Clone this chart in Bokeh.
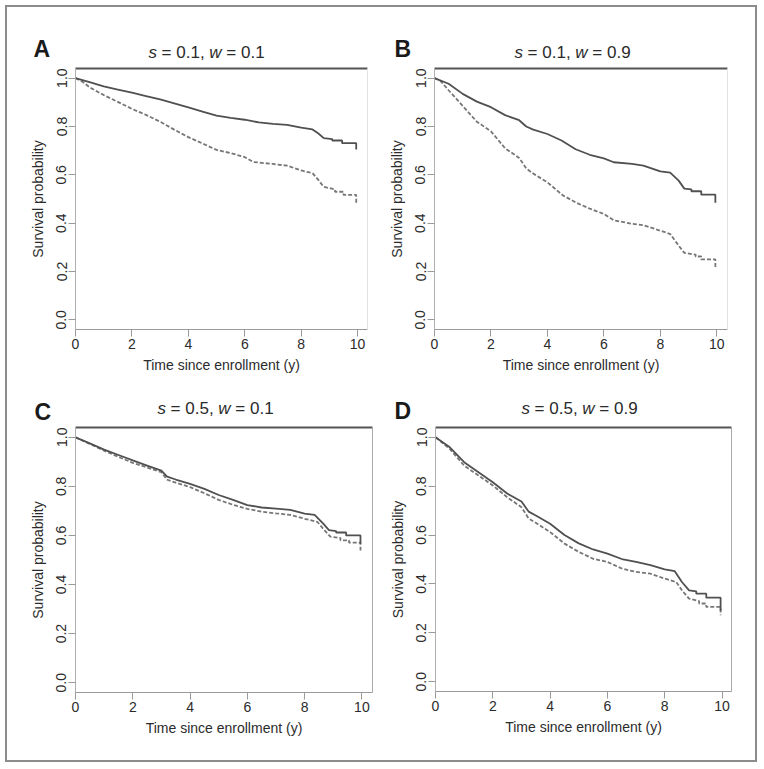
from bokeh.plotting import figure
from bokeh.layouts import column, row
from bokeh.models import Range1d, FixedTicker, PrintfTickFormatter, LinearAxis, Label, Spacer
from bokeh.embed import file_html
from bokeh.resources import INLINE

# ---------------- data ----------------
x_ticks = [0, 2, 4, 6, 8, 10]
y_ticks = [0.0, 0.2, 0.4, 0.6, 0.8, 1.0]
x_label = "Time since enrollment (y)"
y_label = "Survival probability"
panel_letters = ["A", "B", "C", "D"]
s_values = ["0.1", "0.1", "0.5", "0.5"]
w_values = ["0.1", "0.9", "0.1", "0.9"]

tA_s = [0, 0.5, 1.0, 1.5, 2.0, 2.5, 3.0, 3.5, 4.0, 4.5, 5.0, 5.5, 6.0, 6.5, 7.0, 7.5, 8.0, 8.4, 8.6, 8.8, 9.1, 9.1, 9.45, 9.45, 9.95, 9.95]
yA_s = [1.0, 0.984, 0.966, 0.953, 0.940, 0.926, 0.912, 0.896, 0.879, 0.862, 0.845, 0.836, 0.828, 0.817, 0.811, 0.807, 0.795, 0.788, 0.772, 0.752, 0.748, 0.742, 0.742, 0.731, 0.731, 0.705]
tA_d = [0, 0.25, 0.5, 1.0, 1.5, 2.0, 2.5, 3.0, 3.5, 4.0, 4.5, 5.0, 5.5, 6.0, 6.3, 7.0, 7.5, 8.0, 8.4, 8.6, 8.8, 9.2, 9.2, 9.5, 9.5, 9.95, 9.95]
yA_d = [1.0, 0.985, 0.962, 0.93, 0.902, 0.873, 0.848, 0.82, 0.787, 0.756, 0.73, 0.703, 0.69, 0.673, 0.653, 0.645, 0.638, 0.618, 0.607, 0.58, 0.55, 0.54, 0.53, 0.53, 0.517, 0.517, 0.483]

tB_s = [0, 0.5, 1.0, 1.5, 2.0, 2.5, 3.0, 3.25, 3.5, 4.0, 4.5, 5.0, 5.5, 6.0, 6.35, 7.0, 7.4, 8.0, 8.35, 8.65, 8.85, 9.1, 9.1, 9.45, 9.45, 9.95, 9.95]
yB_s = [1.0, 0.977, 0.935, 0.903, 0.88, 0.847, 0.826, 0.80, 0.787, 0.769, 0.742, 0.706, 0.683, 0.668, 0.652, 0.645, 0.638, 0.614, 0.609, 0.576, 0.543, 0.54, 0.532, 0.532, 0.518, 0.518, 0.485]
tB_d = [0, 0.2, 0.5, 1.0, 1.5, 2.0, 2.5, 3.0, 3.25, 3.5, 4.0, 4.55, 5.0, 5.5, 6.0, 6.35, 7.0, 7.4, 8.0, 8.35, 8.65, 8.85, 9.25, 9.25, 9.45, 9.45, 9.95, 9.95]
yB_d = [1.0, 0.99, 0.95, 0.885, 0.82, 0.78, 0.71, 0.67, 0.626, 0.605, 0.569, 0.515, 0.486, 0.46, 0.438, 0.412, 0.397, 0.392, 0.369, 0.355, 0.307, 0.277, 0.27, 0.262, 0.262, 0.25, 0.25, 0.217]

tC_s = [0, 0.5, 1.0, 1.5, 2.0, 2.5, 3.0, 3.2, 3.5, 4.0, 4.5, 5.0, 5.5, 6.0, 6.5, 7.0, 7.5, 8.0, 8.35, 8.65, 8.85, 9.1, 9.1, 9.45, 9.45, 9.95, 9.95]
yC_s = [1.0, 0.975, 0.95, 0.928, 0.906, 0.885, 0.864, 0.84, 0.828, 0.81, 0.79, 0.765, 0.745, 0.724, 0.714, 0.709, 0.704, 0.689, 0.684, 0.648, 0.622, 0.618, 0.612, 0.612, 0.6, 0.6, 0.566]
tC_d = [0, 0.5, 1.0, 1.5, 2.0, 2.5, 3.0, 3.2, 3.5, 4.0, 4.5, 5.0, 5.5, 6.0, 6.5, 7.0, 7.5, 8.0, 8.45, 8.65, 8.9, 9.25, 9.25, 9.55, 9.55, 9.95, 9.95]
yC_d = [1.0, 0.973, 0.946, 0.92, 0.896, 0.877, 0.858, 0.827, 0.815, 0.797, 0.772, 0.745, 0.725, 0.708, 0.697, 0.69, 0.684, 0.668, 0.655, 0.627, 0.595, 0.59, 0.58, 0.58, 0.571, 0.571, 0.539]

tD_s = [0, 0.5, 1.0, 1.5, 2.0, 2.5, 3.0, 3.25, 3.5, 4.0, 4.5, 5.0, 5.5, 6.0, 6.5, 7.0, 7.5, 8.0, 8.35, 8.6, 8.85, 9.1, 9.1, 9.45, 9.45, 9.95, 9.95]
yD_s = [1.0, 0.959, 0.898, 0.857, 0.816, 0.77, 0.737, 0.696, 0.68, 0.646, 0.6, 0.566, 0.541, 0.524, 0.502, 0.49, 0.477, 0.46, 0.452, 0.408, 0.374, 0.37, 0.36, 0.36, 0.344, 0.344, 0.29]
tD_d = [0, 0.5, 1.0, 1.5, 2.0, 2.5, 3.0, 3.25, 3.5, 4.0, 4.5, 5.0, 5.5, 6.0, 6.5, 7.0, 7.5, 8.0, 8.4, 8.6, 8.85, 9.2, 9.2, 9.45, 9.45, 9.95, 9.95]
yD_d = [1.0, 0.952, 0.884, 0.844, 0.803, 0.755, 0.714, 0.668, 0.65, 0.612, 0.565, 0.531, 0.503, 0.49, 0.463, 0.449, 0.442, 0.422, 0.408, 0.374, 0.34, 0.33, 0.32, 0.32, 0.306, 0.306, 0.272]

FONT = "Liberation Sans"
Y0, Y1 = -0.04, 1.04


def title_strip(idx, W, hs, letter_pos, title_pos):
    s = figure(width=W, height=hs, x_range=Range1d(0, W), y_range=Range1d(hs, 0),
               x_axis_type=None, y_axis_type=None, min_border=0,
               min_border_left=0, min_border_right=0, min_border_top=0,
               min_border_bottom=0, frame_align=False,
               outline_line_color=None, toolbar_location=None, tools="",
               output_backend="svg", background_fill_color="white",
               border_fill_color="white")
    s.grid.visible = False
    s.add_layout(Label(x=letter_pos[0], y=letter_pos[1], text=panel_letters[idx],
                       text_font=FONT, text_font_size="23px", text_font_style="bold",
                       text_color="#1a1a1a", text_align="left",
                       text_baseline="alphabetic"))
    em = 17.0 / 1000.0
    pieces = [("s", "italic", 0.0),
              ("= " + s_values[idx] + ",", "normal", (500 + 278) * em),
              ("w", "italic", (500 + 278 + 2530 + 278) * em),
              ("= " + w_values[idx], "normal", (500 + 278 + 2530 + 278 + 722 + 278) * em)]
    total = (500 + 278 + 2530 + 278 + 722 + 278 + 2252) * em
    left = title_pos[0] - total / 2.0
    for txt, style, off in pieces:
        s.add_layout(Label(x=left + off, y=title_pos[1], text=txt, text_font=FONT,
                           text_font_size="17px", text_font_style=style,
                           text_color="#2a2a2a", text_align="left",
                           text_baseline="alphabetic"))
    return s


def make_panel(ts, ys, td, yd, W, H, bl, br, bt, bb, xmax, right_color):
    p = figure(width=W, height=H, x_range=Range1d(0, xmax), y_range=Range1d(Y0, Y1),
               output_backend="svg", toolbar_location=None, tools="",
               min_border_left=bl, min_border_right=br, min_border_top=bt,
               min_border_bottom=bb, frame_align=False,
               background_fill_color="white",
               border_fill_color="white", outline_line_color=None)
    p.grid.visible = False

    xa = p.xaxis[0]
    xa.ticker = FixedTicker(ticks=x_ticks)
    xa.axis_label = x_label
    ya = p.yaxis[0]
    ya.ticker = FixedTicker(ticks=y_ticks)
    ya.formatter = PrintfTickFormatter(format="%.1f")
    ya.axis_label = y_label
    ya.major_label_orientation = "vertical"
    for ax, lc in ((xa, "#9a9a9a"), (ya, "#b0b0b0")):
        ax.axis_line_color = lc
        ax.major_tick_line_color = "#9a9a9a"
        ax.major_tick_out = 7
        ax.major_tick_in = 0
        ax.minor_tick_line_color = None
        ax.major_label_text_font = FONT
        ax.major_label_text_font_size = "14px"
        ax.major_label_text_color = "#2b2b2b"
        ax.axis_label_text_font = FONT
        ax.axis_label_text_font_size = "14px"
        ax.axis_label_text_font_style = "normal"
        ax.axis_label_text_color = "#2b2b2b"
    xa.major_label_standoff = 2
    xa.axis_label_standoff = 5
    ya.major_label_standoff = 2
    ya.axis_label_standoff = 8

    top = LinearAxis(ticker=FixedTicker(ticks=[]), axis_line_color="#555555",
                     axis_line_width=2, major_tick_line_color=None,
                     minor_tick_line_color=None, major_tick_out=0, major_tick_in=0,
                     minor_tick_out=0, minor_tick_in=0,
                     major_label_standoff=0, axis_label_standoff=0)
    p.add_layout(top, "above")
    right = LinearAxis(ticker=FixedTicker(ticks=[]), axis_line_color=right_color,
                       major_tick_line_color=None, minor_tick_line_color=None,
                       major_tick_out=0, major_tick_in=0, minor_tick_out=0,
                       minor_tick_in=0, major_label_standoff=0,
                       axis_label_standoff=0)
    p.add_layout(right, "right")

    p.line(td, yd, line_color="#777777", line_width=1.8, line_dash="4 2")
    p.line(ts, ys, line_color="#505050", line_width=1.8)
    return p


# cells: left column width 375, right 373; top row 378, bottom row 375
sA = title_strip(0, 375, 58, (26, 41), (199, 45))
pA = make_panel(tA_s, yA_s, tA_d, yA_d, 375, 320, 68, 15, 3, 56, 10.35, "#e2e2e2")
sB = title_strip(1, 373, 58, (12, 41), (190, 45))
pB = make_panel(tB_s, yB_s, tB_d, yB_d, 373, 320, 52, 28, 3, 56, 10.38, "#e2e2e2")
sC = title_strip(2, 375, 39, (27, 26), (208, 23))
pC = make_panel(tC_s, yC_s, tC_d, yC_d, 375, 336, 68, 10, 3, 68, 10.37, "#a8a8a8")
sD = title_strip(3, 373, 39, (12, 25), (197, 23))
pD = make_panel(tD_s, yD_s, tD_d, yD_d, 373, 336, 53, 24, 3, 69, 10.33, "#a8a8a8")

grid = column(row(column(sA, pA, spacing=0), column(sB, pB, spacing=0), spacing=0),
              row(column(sC, pC, spacing=0), column(sD, pD, spacing=0), spacing=0),
              spacing=0, styles={"border": "2px solid #8c8c8c"})

layout = column(Spacer(width=5, height=5), row(Spacer(width=5, height=5), grid, spacing=0),
                spacing=0)

open("out.html", "w").write(file_html(layout, INLINE))
